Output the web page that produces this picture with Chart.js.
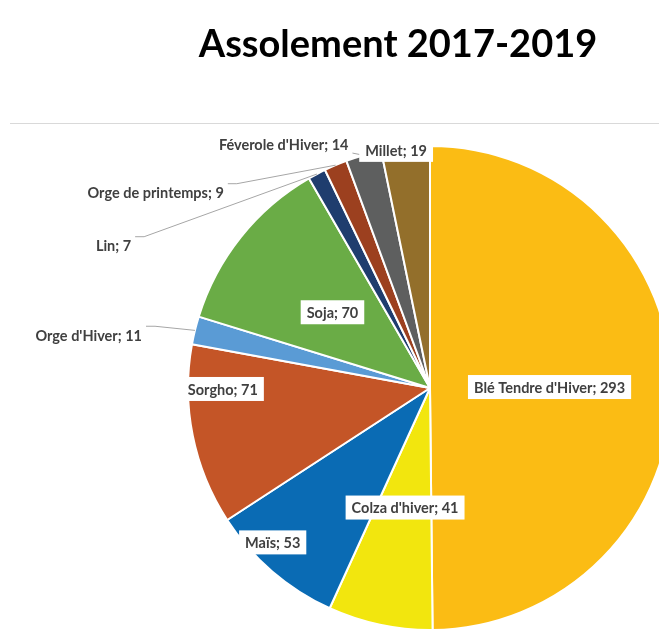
<!DOCTYPE html>
<html>
<head>
<meta charset="utf-8">
<script src="https://cdn.jsdelivr.net/npm/chart.js@4.4.0/dist/chart.umd.min.js"></script>
<style>
  html, body { margin: 0; padding: 0; background: #fff; overflow: hidden; }
  #wrap { position: relative; width: 700px; height: 635px; }
</style>
</head>
<body>
<div id="wrap"><canvas id="assolement"></canvas></div>
<script>
var titre = 'Assolement 2017-2019';
var cultures = ["Blé Tendre d'Hiver", "Colza d'hiver", "Maïs", "Sorgho", "Orge d'Hiver", "Soja", "Lin", "Orge de printemps", "Féverole d'Hiver", "Millet"];
var surfaces = [293, 41, 53, 71, 11, 70, 7, 9, 14, 19];
var couleurs = ['#FBBC14', '#F2E60E', '#0A6BB4', '#C45527', '#5A9BD5', '#6AAC46', '#1F3D6E', '#9C401F', '#5E5F5F', '#936F2B'];

// where each label sits, offset from the pie centre in radius units
// box: white box behind the text, lead: leader line to the slice
var placement = [
  {dx: 0.494, dy: -0.004, box: true},
  {dx: -0.103, dy: 0.494, box: true},
  {dx: -0.650, dy: 0.638, box: true},
  {dx: -0.856, dy: 0.004, box: true},
  {dx: -1.190, dy: -0.218, right: true, lead: true},
  {dx: -0.403, dy: -0.313, box: true},
  {dx: -1.235, dy: -0.588, right: true, lead: true},
  {dx: -0.852, dy: -0.807, right: true, lead: true},
  {dx: -0.337, dy: -1.008, right: true, lead: true, low: true},
  {dx: -0.140, dy: -0.984, box: true}
];

var decor = {
  id: 'decor',
  beforeDraw: function(chart) {
    var ctx = chart.ctx;
    ctx.save();
    ctx.fillStyle = '#000';
    ctx.font = 'bold 38px Lato';
    ctx.textAlign = 'center';
    ctx.textBaseline = 'alphabetic';
    ctx.fillText(titre, 398, 57);
    ctx.strokeStyle = '#D9D9D9';
    ctx.lineWidth = 1;
    ctx.beginPath();
    ctx.moveTo(10, 123.5);
    ctx.lineTo(chart.width, 123.5);
    ctx.stroke();
    ctx.restore();
  },
  afterDatasetsDraw: function(chart) {
    var ctx = chart.ctx;
    var arcs = chart.getDatasetMeta(0).data;
    ctx.save();
    ctx.font = 'bold 14.5px Lato';
    ctx.textBaseline = 'middle';
    arcs.forEach(function(arc, i) {
      var p = placement[i];
      var r = arc.outerRadius;
      var x = arc.x + p.dx * r;
      var y = arc.y + p.dy * r;
      var txt = cultures[i] + '; ' + surfaces[i];
      var w = ctx.measureText(txt).width;
      if (p.lead) {
        var mid = (arc.startAngle + arc.endAngle) / 2;
        var ex = arc.x + Math.cos(mid) * r;
        var ey = arc.y + Math.sin(mid) * r;
        var sx = x + 4;
        var sy = p.low ? y + 9 : y - 9;
        ctx.strokeStyle = '#A6A6A6';
        ctx.lineWidth = 1;
        ctx.beginPath();
        ctx.moveTo(sx, sy);
        if (!p.low) ctx.lineTo(sx + 9, sy);
        ctx.lineTo(ex, ey);
        ctx.stroke();
      }
      var left = p.right ? x - w : x - w / 2;
      if (p.box) {
        ctx.fillStyle = '#fff';
        ctx.fillRect(left - 6, y - 12, w + 12, 24);
      }
      ctx.fillStyle = '#404040';
      ctx.textAlign = 'left';
      ctx.fillText(txt, left, y + 1);
    });
    ctx.restore();
  }
};

new Chart(document.getElementById('assolement'), {
  type: 'pie',
  data: {
    labels: cultures,
    datasets: [{
      data: surfaces,
      backgroundColor: couleurs,
      borderColor: '#fff',
      borderWidth: 2,
      hoverOffset: 0
    }]
  },
  options: {
    responsive: true,
    maintainAspectRatio: false,
    animation: false,
    events: [],
    layout: { padding: { top: 145, bottom: 4, left: 187, right: 27 } },
    plugins: {
      legend: { display: false },
      tooltip: { enabled: false },
      title: { display: false }
    }
  },
  plugins: [decor]
});
</script>
</body>
</html>
